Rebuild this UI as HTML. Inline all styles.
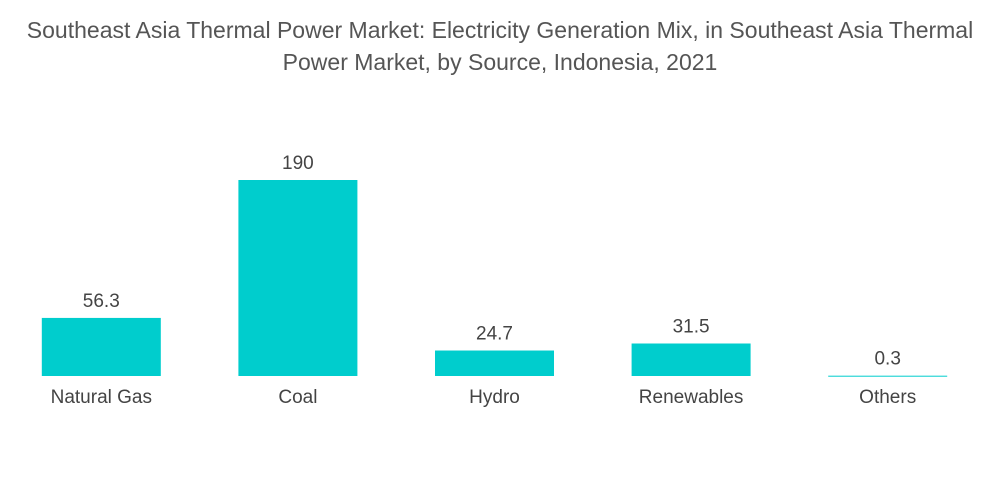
<!DOCTYPE html>
<html><head><meta charset="utf-8"><style>
html,body{margin:0;padding:0;background:#fff;}
body{width:1000px;height:504px;overflow:hidden;font-family:"Liberation Sans",sans-serif;}
.title{position:absolute;left:0;top:14px;width:1000px;text-align:center;font-size:23px;line-height:32px;color:#555;}
</style></head><body>
<div class="title">Southeast Asia Thermal Power Market: Electricity Generation Mix, in Southeast Asia Thermal<br>Power Market, by Source, Indonesia, 2021</div>
<svg id="chart" width="1000" height="504" style="position:absolute;left:0;top:0"></svg>
<script>
const categories=["Natural Gas","Coal","Hydro","Renewables","Others"];
const values=[56.3,190,24.7,31.5,0.3];
const valueLabels=["56.3","190","24.7","31.5","0.3"];
const svg=document.getElementById('chart');
const NS='http://www.w3.org/2000/svg';
const x0=3,slot=196.6,baseY=376,scale=196/190,bw=119;
function xC(i){return x0+slot*(i+0.5);}
function yV(v){return baseY-v*scale;}
categories.forEach((c,i)=>{
  const r=document.createElementNS(NS,'rect');
  const top=yV(values[i]);
  r.setAttribute('x',xC(i)-bw/2);r.setAttribute('y',top);
  r.setAttribute('width',bw);r.setAttribute('height',Math.max(baseY-top,1));
  r.setAttribute('fill','#00cdcd');
  
  
  svg.appendChild(r);
  const t=document.createElementNS(NS,'text');
  t.setAttribute('x',xC(i));t.setAttribute('y',top-11);
  t.setAttribute('text-anchor','middle');t.setAttribute('font-size','19');t.setAttribute('fill','#444');
  t.textContent=valueLabels[i];
  
  
  svg.appendChild(t);
  const l=document.createElementNS(NS,'text');
  l.setAttribute('x',xC(i));l.setAttribute('y',403);
  l.setAttribute('text-anchor','middle');l.setAttribute('font-size','19');l.setAttribute('fill','#444');
  l.textContent=c;
  
  
  svg.appendChild(l);
});
</script>
</body></html>
